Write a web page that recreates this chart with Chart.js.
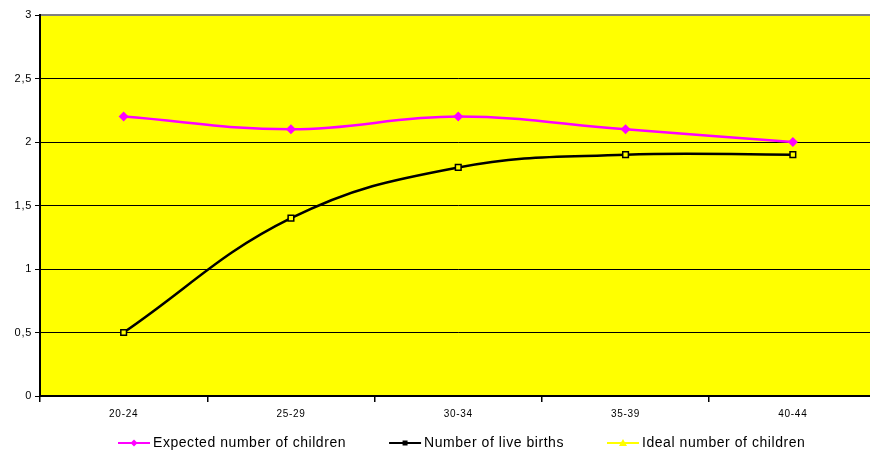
<!DOCTYPE html>
<html>
<head>
<meta charset="utf-8">
<script src="https://cdn.jsdelivr.net/npm/chart.js@4/dist/chart.umd.min.js"></script>
<style>
  html, body { margin: 0; padding: 0; background: #fff; overflow: hidden; }
  #wrap { width: 884px; height: 459px; }
</style>
</head>
<body>
<div id="wrap"><canvas id="c" width="884" height="459"></canvas></div>
<script>
// Age groups of women and the fertility measures per group
const ageGroups = ['20-24', '25-29', '30-34', '35-39', '40-44'];
const expectedChildren = [2.2, 2.1, 2.2, 2.1, 2.0];
const liveBirths = [0.5, 1.4, 1.8, 1.9, 1.9];
const idealChildren = [null, null, null, null, null];
const yTicks = [0, 0.5, 1, 1.5, 2, 2.5, 3];

const FONT = 'Liberation Sans, Arial, sans-serif';
const TICK_SPACING = '0.7px';

// Slightly spaced lettering for the axis labels
const spacing = {
  id: 'spacing',
  beforeLayout(chart) { chart.ctx.letterSpacing = TICK_SPACING; },
  beforeDraw(chart) { chart.ctx.letterSpacing = TICK_SPACING; }
};

// Yellow plot area with the grey top edge and black axis lines
const plotFrame = {
  id: 'plotFrame',
  beforeDraw(chart) {
    const { ctx, chartArea: a } = chart;
    ctx.save();
    ctx.fillStyle = '#ffff00';
    ctx.fillRect(a.left, a.top, a.right - a.left, a.bottom - a.top);
    ctx.restore();
  },
  afterDatasetsDraw(chart) {
    const { ctx, chartArea: a } = chart;
    ctx.save();
    ctx.fillStyle = '#808080';
    ctx.fillRect(a.left, a.top - 1, a.right - a.left, 2);
    ctx.fillStyle = '#000';
    ctx.fillRect(a.left - 1, a.top - 1, 2, a.bottom - a.top + 2);
    ctx.fillRect(a.left - 1, a.bottom - 1, a.right - a.left + 2, 2);
    ctx.restore();
  }
};

// Legend row below the axis: line swatch with marker, then the series name
const lineLegend = {
  id: 'lineLegend',
  afterDraw(chart) {
    const { ctx } = chart;
    const y = 443;
    let x = 118;
    ctx.save();
    ctx.font = '14px ' + FONT;
    ctx.letterSpacing = '0.55px';
    ctx.textBaseline = 'middle';
    chart.data.datasets.forEach(ds => {
      const c = ds.borderColor;
      ctx.strokeStyle = c; ctx.lineWidth = 2;
      ctx.beginPath(); ctx.moveTo(x, y); ctx.lineTo(x + 32, y); ctx.stroke();
      const mx = x + 16;
      ctx.fillStyle = c;
      ctx.beginPath();
      if (ds.pointStyle === 'rectRot') {
        ctx.moveTo(mx, y - 3.5); ctx.lineTo(mx + 3.5, y); ctx.lineTo(mx, y + 3.5); ctx.lineTo(mx - 3.5, y);
      } else if (ds.pointStyle === 'rect') {
        ctx.rect(mx - 2.5, y - 2.5, 5, 5);
      } else {
        ctx.moveTo(mx, y - 4); ctx.lineTo(mx + 4, y + 3); ctx.lineTo(mx - 4, y + 3);
      }
      ctx.closePath(); ctx.fill();
      ctx.fillStyle = '#000';
      ctx.fillText(ds.label, x + 35, y + 0.5);
      x += 35 + ctx.measureText(ds.label).width + 43;
    });
    ctx.restore();
  }
};

new Chart(document.getElementById('c'), {
  type: 'line',
  data: {
    labels: ageGroups,
    datasets: [
      {
        label: 'Expected number of children',
        data: expectedChildren,
        borderColor: '#ff00ff',
        backgroundColor: '#ff00ff',
        borderWidth: 2.5,
        tension: 0.4,
        pointStyle: 'rectRot',
        pointRadius: 5,
        pointBorderWidth: 0
      },
      {
        label: 'Number of live births',
        data: liveBirths,
        borderColor: '#000000',
        backgroundColor: '#ffff00',
        borderWidth: 2.5,
        tension: 0.4,
        pointStyle: 'rect',
        pointRadius: 4,
        pointBorderWidth: 1.5
      },
      {
        label: 'Ideal number of children',
        data: idealChildren,
        borderColor: '#ffff00',
        backgroundColor: '#ffff00',
        borderWidth: 2.5,
        tension: 0.4,
        pointStyle: 'triangle',
        pointRadius: 5
      }
    ]
  },
  options: {
    responsive: false,
    animation: false,
    layout: { padding: { top: 15, left: 0, right: 0, bottom: 33 } },
    plugins: {
      tooltip: { enabled: false },
      legend: { display: false }
    },
    scales: {
      x: {
        offset: true,
        grid: { offset: true, drawOnChartArea: false, drawTicks: true, tickLength: 6, color: '#000', lineWidth: 1.5 },
        border: { display: false },
        ticks: { color: '#000', font: { family: FONT, size: 10 }, padding: 6, maxRotation: 0 },
        afterFit(s) { s.height = 30; }
      },
      y: {
        min: 0, max: 3,
        afterBuildTicks(s) { s.ticks = yTicks.map(v => ({ value: v })); },
        grid: { color: '#000', lineWidth: 1, tickLength: 5, drawTicks: true },
        border: { display: false },
        ticks: {
          color: '#000',
          font: { family: FONT, size: 11 },
          padding: 3,
          callback: v => String(v).replace('.', ',')
        },
        afterFit(s) { s.width = 40; }
      }
    }
  },
  plugins: [spacing, plotFrame, lineLegend]
});
</script>
</body>
</html>
